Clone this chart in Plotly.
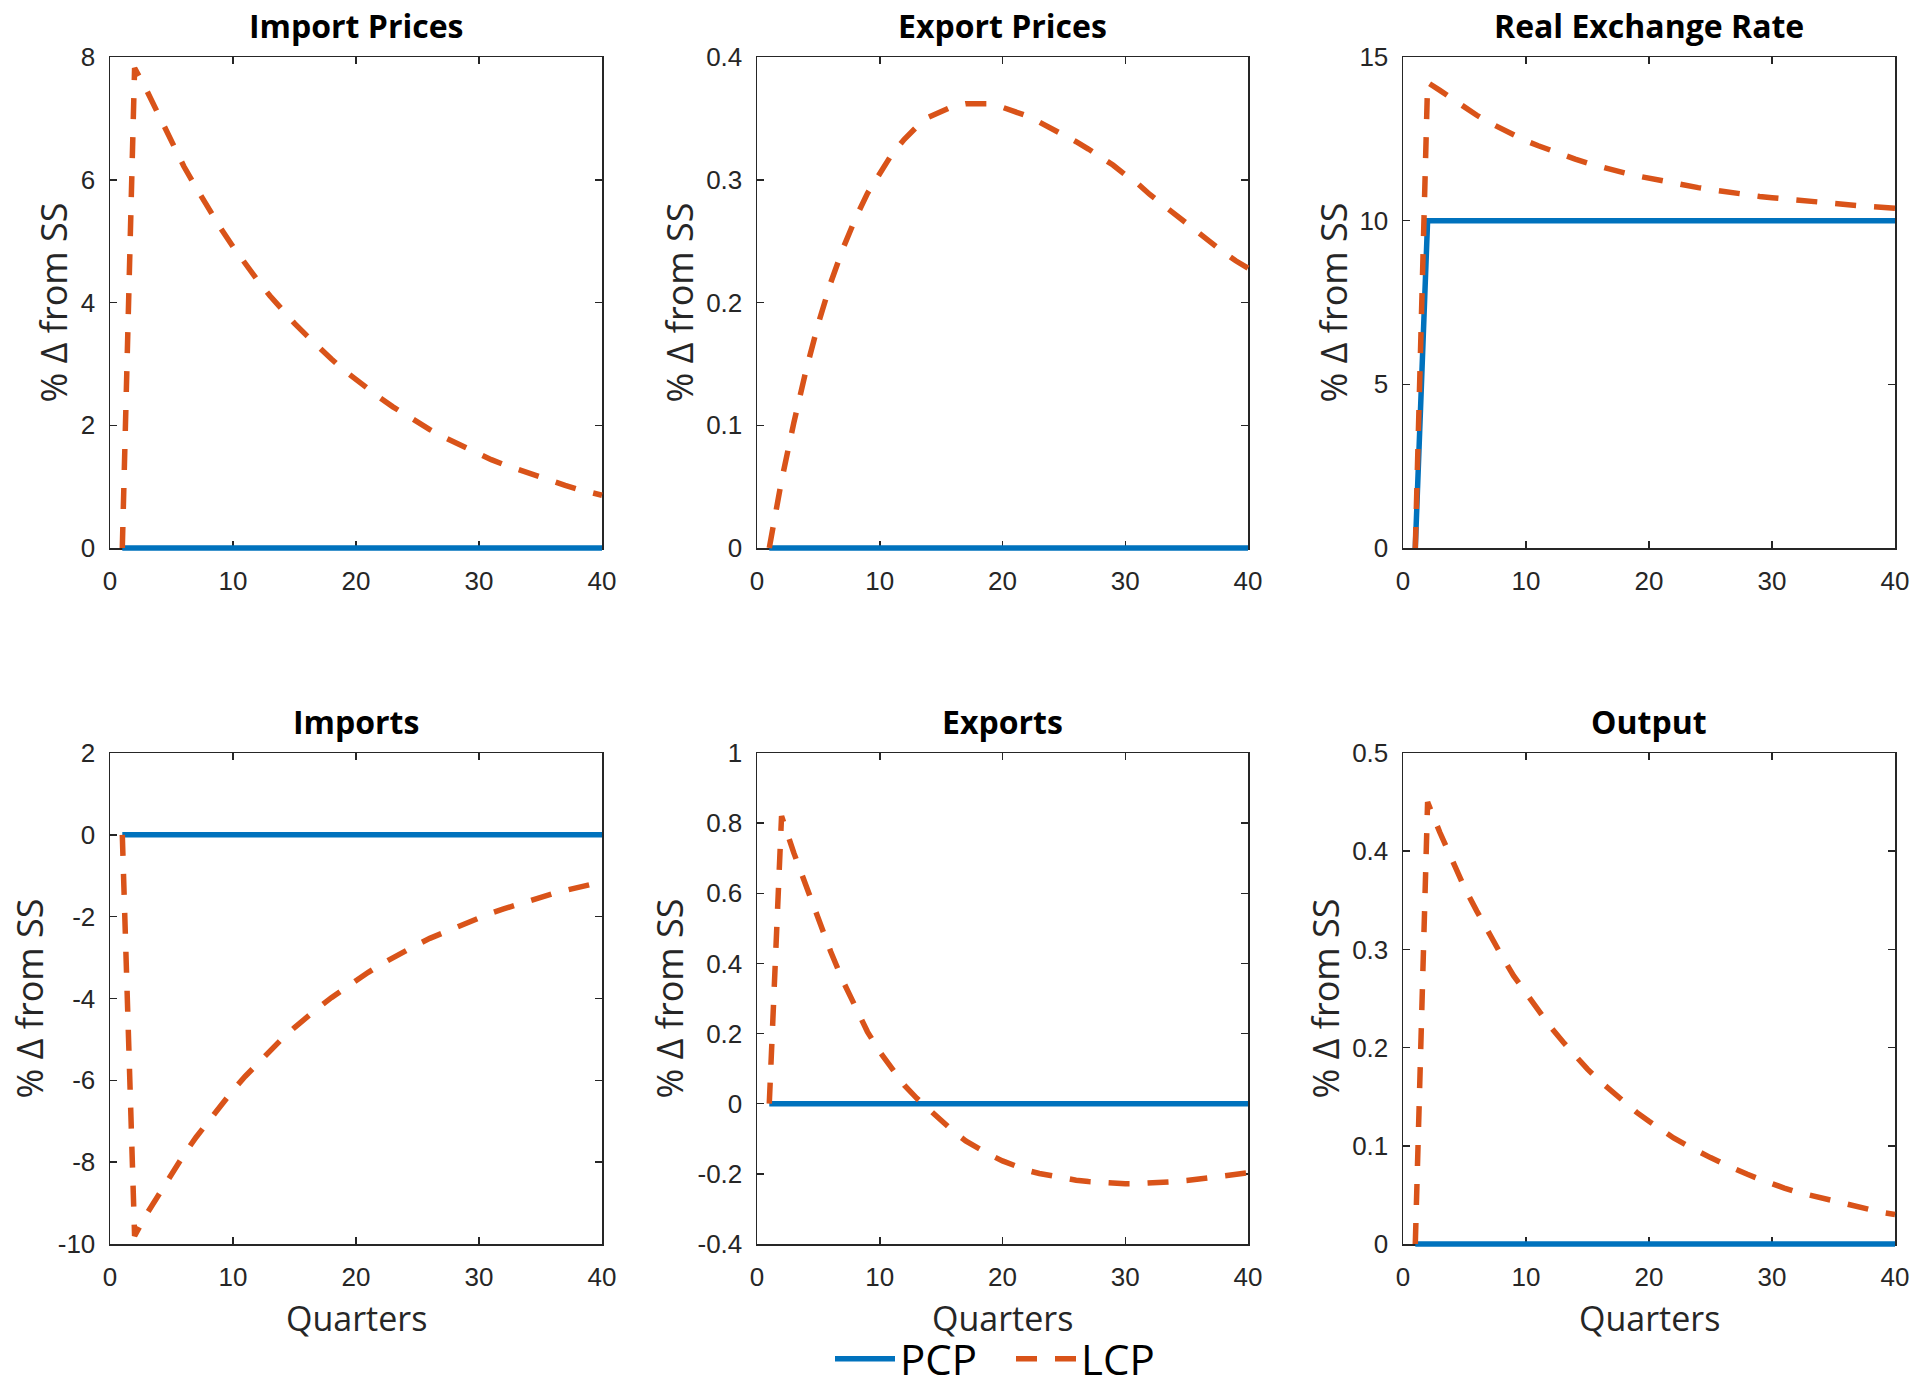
import plotly.graph_objects as go

W, H = 1914, 1388

quarters = list(range(1, 41))

# ---------------- data ----------------
import_prices_pcp = [0, 0, 0, 0, 0, 0, 0, 0, 0, 0, 0, 0, 0, 0, 0, 0, 0, 0, 0, 0,
                     0, 0, 0, 0, 0, 0, 0, 0, 0, 0, 0, 0, 0, 0, 0, 0, 0, 0, 0, 0]
import_prices_lcp = [0, 7.82, 7.45, 7.03, 6.60, 6.22, 5.87, 5.53, 5.21, 4.91,
                     4.62, 4.36, 4.11, 3.88, 3.66, 3.46, 3.26, 3.08, 2.90, 2.74,
                     2.58, 2.44, 2.30, 2.17, 2.05, 1.93, 1.82, 1.72, 1.62, 1.53,
                     1.44, 1.36, 1.29, 1.21, 1.15, 1.08, 1.02, 0.96, 0.91, 0.86]

export_prices_pcp = [0, 0, 0, 0, 0, 0, 0, 0, 0, 0, 0, 0, 0, 0, 0, 0, 0, 0, 0, 0,
                     0, 0, 0, 0, 0, 0, 0, 0, 0, 0, 0, 0, 0, 0, 0, 0, 0, 0, 0, 0]
export_prices_lcp = [0, 0.055, 0.102, 0.145, 0.183, 0.216, 0.244, 0.268, 0.289, 0.306,
                     0.321, 0.333, 0.343, 0.351, 0.356, 0.360, 0.362, 0.3625, 0.362, 0.359,
                     0.356, 0.352, 0.347, 0.342, 0.337, 0.331, 0.325, 0.319, 0.312, 0.304,
                     0.297, 0.288, 0.280, 0.272, 0.264, 0.256, 0.249, 0.241, 0.234, 0.228]

rer_pcp = [0, 10, 10, 10, 10, 10, 10, 10, 10, 10, 10, 10, 10, 10, 10, 10, 10, 10, 10, 10,
           10, 10, 10, 10, 10, 10, 10, 10, 10, 10, 10, 10, 10, 10, 10, 10, 10, 10, 10, 10]
rer_lcp = [0, 14.22, 13.98, 13.72, 13.46, 13.22, 13.00, 12.80, 12.61, 12.44,
           12.29, 12.14, 12.00, 11.88, 11.76, 11.65, 11.55, 11.46, 11.37, 11.29,
           11.21, 11.14, 11.07, 11.01, 10.95, 10.89, 10.84, 10.79, 10.74, 10.70,
           10.66, 10.62, 10.58, 10.55, 10.52, 10.49, 10.46, 10.43, 10.41, 10.38]

imports_pcp = [0, 0, 0, 0, 0, 0, 0, 0, 0, 0, 0, 0, 0, 0, 0, 0, 0, 0, 0, 0,
               0, 0, 0, 0, 0, 0, 0, 0, 0, 0, 0, 0, 0, 0, 0, 0, 0, 0, 0, 0]
imports_lcp = [0, -9.80, -9.26, -8.76, -8.28, -7.82, -7.39, -6.99, -6.60, -6.24,
               -5.90, -5.58, -5.27, -4.98, -4.71, -4.45, -4.21, -3.98, -3.76, -3.55,
               -3.36, -3.17, -3.00, -2.84, -2.68, -2.53, -2.40, -2.27, -2.14, -2.02,
               -1.91, -1.81, -1.71, -1.62, -1.53, -1.44, -1.36, -1.29, -1.22, -1.15]

exports_pcp = [0, 0, 0, 0, 0, 0, 0, 0, 0, 0, 0, 0, 0, 0, 0, 0, 0, 0, 0, 0,
               0, 0, 0, 0, 0, 0, 0, 0, 0, 0, 0, 0, 0, 0, 0, 0, 0, 0, 0, 0]
exports_lcp = [0, 0.82, 0.715, 0.62, 0.527, 0.434, 0.35, 0.273, 0.205, 0.148,
               0.097, 0.053, 0.016, -0.017, -0.05, -0.079, -0.106, -0.127, -0.146, -0.163,
               -0.178, -0.190, -0.199, -0.206, -0.212, -0.218, -0.222, -0.225, -0.227, -0.228,
               -0.228, -0.227, -0.225, -0.222, -0.219, -0.215, -0.211, -0.207, -0.202, -0.197]

output_pcp = [0, 0, 0, 0, 0, 0, 0, 0, 0, 0, 0, 0, 0, 0, 0, 0, 0, 0, 0, 0,
              0, 0, 0, 0, 0, 0, 0, 0, 0, 0, 0, 0, 0, 0, 0, 0, 0, 0, 0, 0]
output_lcp = [0, 0.450, 0.419, 0.390, 0.363, 0.339, 0.315, 0.294, 0.273, 0.255,
              0.237, 0.221, 0.206, 0.191, 0.178, 0.166, 0.155, 0.144, 0.134, 0.125,
              0.116, 0.108, 0.101, 0.094, 0.088, 0.082, 0.076, 0.071, 0.066, 0.061,
              0.057, 0.053, 0.050, 0.046, 0.043, 0.040, 0.037, 0.035, 0.032, 0.030]

panel_titles = ["Import Prices", "Export Prices", "Real Exchange Rate",
                "Imports", "Exports", "Output"]
series_names = ["PCP", "LCP"]
x_range = [0, 40]
x_tickvals = [0, 10, 20, 30, 40]
x_ticktext = ["0", "10", "20", "30", "40"]
y_ranges = [[0, 8], [0, 0.4], [0, 15], [-10, 2], [-0.4, 1], [0, 0.5]]
y_tickvals = [[0, 2, 4, 6, 8],
              [0, 0.1, 0.2, 0.3, 0.4],
              [0, 5, 10, 15],
              [-10, -8, -6, -4, -2, 0, 2],
              [-0.4, -0.2, 0, 0.2, 0.4, 0.6, 0.8, 1],
              [0, 0.1, 0.2, 0.3, 0.4, 0.5]]
y_ticktext = [["0", "2", "4", "6", "8"],
              ["0", "0.1", "0.2", "0.3", "0.4"],
              ["0", "5", "10", "15"],
              ["-10", "-8", "-6", "-4", "-2", "0", "2"],
              ["-0.4", "-0.2", "0", "0.2", "0.4", "0.6", "0.8", "1"],
              ["0", "0.1", "0.2", "0.3", "0.4", "0.5"]]
y_title = "% \u0394 from SS"
x_title = "Quarters"

pcp_series = [import_prices_pcp, export_prices_pcp, rer_pcp, imports_pcp, exports_pcp, output_pcp]
lcp_series = [import_prices_lcp, export_prices_lcp, rer_lcp, imports_lcp, exports_lcp, output_lcp]

# ---------------- styling / layout ----------------
BLUE = "#0072BD"
ORANGE = "#D95319"
AXC = "#262626"
TICK_FONT = dict(family="Liberation Sans, Arial, sans-serif", size=26, color=AXC)
LABEL_FONT = dict(family="Open Sans, sans-serif", size=36, color=AXC)
XLABEL_FONT = dict(family="Open Sans, sans-serif", size=34, color=AXC)
TITLE_FONT = dict(family="Open Sans, sans-serif", size=32, color="black")

col_px = [(110, 602), (757, 1248), (1403, 1895)]
row_px = [(57, 548), (753, 1244)]
ytitle_cx = [[53, 679, 1333], [29, 669, 1325]]
PAD = 10  # px: the data layer extends past the frame so lines on the edge are not cut


def ax_name(kind, k):
    return kind + "axis" + ("" if k == 1 else str(k))


def ax_ref(kind, k):
    return kind + ("" if k == 1 else str(k))


fig = go.Figure()
layout_axes = {}
annotations = []

# frame subplots first (drawn underneath), each needs a trace to be created
for i in range(6):
    fig.add_trace(go.Scatter(x=[], y=[], mode="lines", showlegend=False, hoverinfo="skip",
                             xaxis=ax_ref("x", i + 1), yaxis=ax_ref("y", i + 1)))

for i in range(6):
    r, c = i // 3, i % 3
    x0, x1 = col_px[c]
    y0, y1 = row_px[r]
    kf = i + 1        # frame (visible axes, box, ticks)
    kd = i + 7        # data layer (same scale, slightly larger clip area)

    common = dict(showline=True, linecolor=AXC, linewidth=1.5, mirror="ticks",
                  ticks="inside", ticklen=7, tickwidth=1.5, tickcolor=AXC,
                  showgrid=False, zeroline=False, tickfont=TICK_FONT, fixedrange=True)
    layout_axes[ax_name("x", kf)] = dict(common, domain=[x0 / W, x1 / W], range=x_range,
                                         tickvals=x_tickvals, ticktext=x_ticktext,
                                         anchor=ax_ref("y", kf), ticklabelstandoff=9)
    ya, yb = y_ranges[i]
    layout_axes[ax_name("y", kf)] = dict(common, domain=[1 - y1 / H, 1 - y0 / H], range=[ya, yb],
                                         tickvals=y_tickvals[i], ticktext=y_ticktext[i],
                                         anchor=ax_ref("x", kf), ticklabelstandoff=8)

    # data axes: domain grown by PAD px on every side, range grown by the same amount
    dxu = PAD * (x_range[1] - x_range[0]) / (x1 - x0)
    dyu = PAD * (yb - ya) / (y1 - y0)
    layout_axes[ax_name("x", kd)] = dict(visible=False, fixedrange=True,
                                         domain=[(x0 - PAD) / W, (x1 + PAD) / W],
                                         range=[x_range[0] - dxu, x_range[1] + dxu],
                                         anchor=ax_ref("y", kd))
    layout_axes[ax_name("y", kd)] = dict(visible=False, fixedrange=True,
                                         domain=[1 - (y1 + PAD) / H, 1 - (y0 - PAD) / H],
                                         range=[ya - dyu, yb + dyu],
                                         anchor=ax_ref("x", kd))

    fig.add_trace(go.Scatter(x=quarters, y=pcp_series[i], mode="lines", name=series_names[0],
                             legendgroup="pcp", showlegend=(i == 0),
                             xaxis=ax_ref("x", kd), yaxis=ax_ref("y", kd),
                             line=dict(color=BLUE, width=5.5)))
    fig.add_trace(go.Scatter(x=quarters, y=lcp_series[i], mode="lines", name=series_names[1],
                             legendgroup="lcp", showlegend=(i == 0),
                             xaxis=ax_ref("x", kd), yaxis=ax_ref("y", kd),
                             line=dict(color=ORANGE, width=5.5, dash="21px,18px")))

    annotations.append(dict(text="<b>" + panel_titles[i] + "</b>", xref="paper", yref="paper",
                            x=(x0 + x1) / 2 / W, y=1 - y0 / H, xanchor="center",
                            yanchor="bottom", yshift=8, showarrow=False, font=TITLE_FONT))
    annotations.append(dict(text=y_title, xref="paper", yref="paper",
                            x=ytitle_cx[r][c] / W, y=1 - (y0 + y1) / 2 / H,
                            xanchor="center", yanchor="middle", textangle=-90,
                            showarrow=False, font=LABEL_FONT))
    if r == 1:
        annotations.append(dict(text=x_title, xref="paper", yref="paper",
                                x=(x0 + x1) / 2 / W, y=1 - 1318 / H,
                                xanchor="center", yanchor="middle", showarrow=False,
                                font=XLABEL_FONT))

fig.update_layout(
    width=W, height=H,
    margin=dict(l=0, r=0, t=0, b=0, autoexpand=False),
    paper_bgcolor="white", plot_bgcolor="rgba(0,0,0,0)",
    annotations=annotations,
    legend=dict(orientation="h", x=830 / W, xanchor="left", y=1 - 1359 / H, yanchor="middle",
                font=dict(family="Open Sans, sans-serif", size=42, color="black"),
                bgcolor="rgba(0,0,0,0)", itemwidth=60, entrywidth=106,
                entrywidthmode="pixels"),
    hovermode=False,
    **layout_axes,
)

fig.write_html("out.html", config={"displayModeBar": False, "staticPlot": True},
               post_script="document.body.style.margin='0';document.body.style.padding='0';")
